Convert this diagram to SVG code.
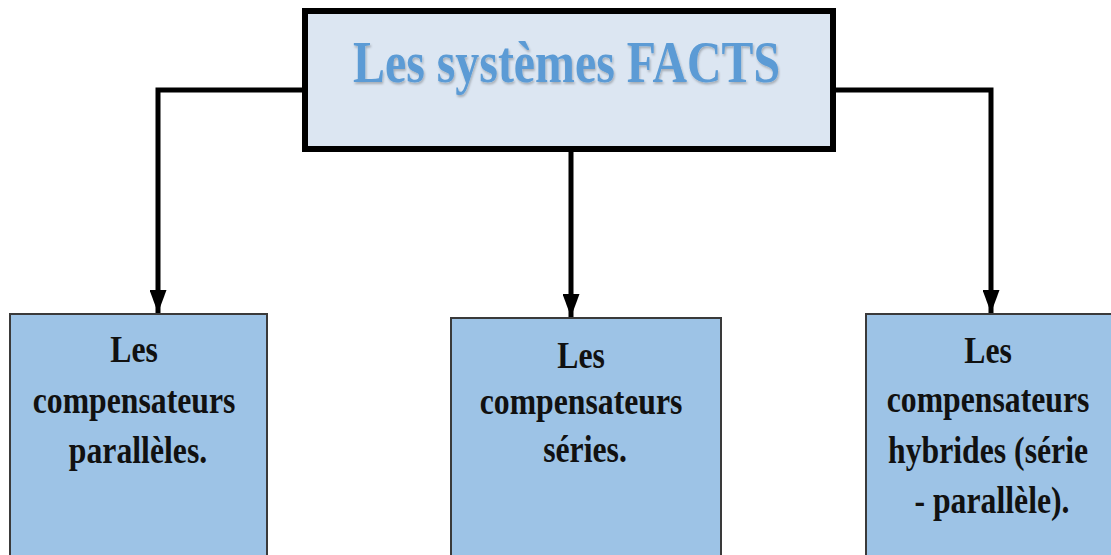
<svg xmlns="http://www.w3.org/2000/svg" width="1111" height="555" viewBox="0 0 1111 555">
  <style>
    .top { fill: #dce6f2; stroke: #000; stroke-width: 6; }
    .leaf { fill: #9dc3e6; stroke: #3a3a3a; stroke-width: 2; }
    .title { font-family: "Liberation Serif", "Times New Roman", serif; font-weight: bold; font-size: 60px; fill: #5b9bd5; }
    .lbl { font-family: "Liberation Serif", "Times New Roman", serif; font-weight: bold; font-size: 38px; fill: #111; text-anchor: middle; }
    .conn { fill: none; stroke: #000; stroke-width: 5; }
  </style>
  <defs>
    <marker id="arrow" markerUnits="userSpaceOnUse" markerWidth="23" markerHeight="17" refX="23" refY="8.5" orient="auto">
      <path d="M0,0 L23,8.5 L0,17 Z" fill="#000"/>
    </marker>
    <filter id="shadow" x="-5%" y="-20%" width="110%" height="140%">
      <feDropShadow dx="1" dy="2" stdDeviation="1.2" flood-color="#000" flood-opacity="0.25"/>
    </filter>
  </defs>
  <rect width="1111" height="555" fill="#fff"/>
  <g id="connectors">
    <path class="conn" d="M302 90 H158 V313" marker-end="url(#arrow)"/>
    <path class="conn" d="M571 152 V317" marker-end="url(#arrow)"/>
    <path class="conn" d="M836 90 H991 V313" marker-end="url(#arrow)"/>
  </g>
  <g id="node-facts">
    <rect class="top" x="305" y="11" width="528" height="138"/>
    <text class="title" x="353" y="82" textLength="427" lengthAdjust="spacingAndGlyphs" filter="url(#shadow)">Les systèmes FACTS</text>
  </g>
  <g id="node-paralleles">
    <rect class="leaf" x="10" y="314" width="257" height="250"/>
    <text class="lbl" transform="translate(138 0) scale(0.835 1)">
      <tspan x="0" y="362">Les</tspan>
      <tspan x="0" y="413">compensateurs</tspan>
      <tspan x="0" y="463">parallèles.</tspan>
    </text>
  </g>
  <g id="node-series">
    <rect class="leaf" x="451" y="318" width="270" height="250"/>
    <text class="lbl" transform="translate(585 0) scale(0.835 1)">
      <tspan x="0" y="368">Les</tspan>
      <tspan x="0" y="414">compensateurs</tspan>
      <tspan x="0" y="462">séries.</tspan>
    </text>
  </g>
  <g id="node-hybrides">
    <rect class="leaf" x="866" y="314" width="260" height="250"/>
    <text class="lbl" transform="translate(992 0) scale(0.835 1)">
      <tspan x="0" y="363">Les</tspan>
      <tspan x="0" y="412">compensateurs</tspan>
      <tspan x="0" y="463">hybrides (série</tspan>
      <tspan x="0" y="513">- parallèle).</tspan>
    </text>
  </g>
</svg>
